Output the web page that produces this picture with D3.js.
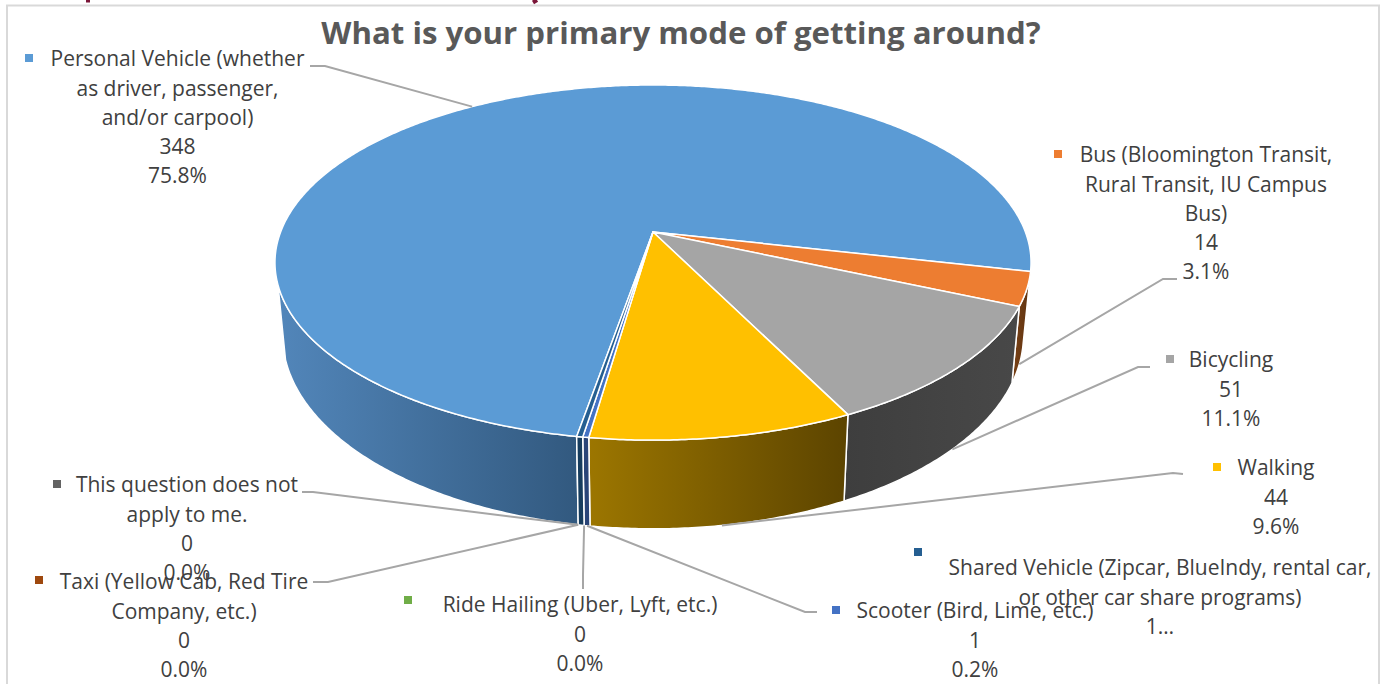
<!DOCTYPE html>
<html><head><meta charset="utf-8">
<style>html,body{margin:0;padding:0;background:#fff;overflow:hidden}svg{display:block}</style>
<script src="https://cdn.jsdelivr.net/npm/d3@7/dist/d3.min.js"></script>
</head><body>
<svg id="c" width="1386" height="684"></svg>
<script>
const categories=["Personal Vehicle","Bus","Bicycling","Walking","Scooter","Ride Hailing","Shared Vehicle","Taxi","This question does not apply to me."];
const counts=[348,14,51,44,1,0,1,0,0];
const topColors=["#5B9BD5","#ED7D31","#A5A5A5","#FFC000","#4472C4","#70AD47","#255E91","#9E480E","#636363"];
const wallLeft=["#5286BA","#7A4216","#3E3E3E","#9C7600","#2A4578","#43682B","#173D5E","#5E2B08","#3B3B3B"];
const wallRight=["#32597F","#5E3210","#484848","#5C4400","#2A4578","#43682B","#173D5E","#5E2B08","#3B3B3B"];
const labelLines=[
 ["Personal Vehicle (whether","as driver, passenger,","and/or carpool)","348","75.8%"],
 ["Bus (Bloomington Transit,","Rural Transit, IU Campus","Bus)","14","3.1%"],
 ["Bicycling","51","11.1%"],
 ["Walking","44","9.6%"],
 ["Scooter (Bird, Lime, etc.)","1","0.2%"],
 ["Ride Hailing (Uber, Lyft, etc.)","0","0.0%"],
 ["Shared Vehicle (Zipcar, BlueIndy, rental car,","or other car share programs)","1…"],
 ["Taxi (Yellow Cab, Red Tire","Company, etc.)","0","0.0%"],
 ["This question does not","apply to me.","0","0.0%"]
];
// label layout: text centre x, first-line y, marker position, leader elbow and stub end (null = no leader)
const labelX=[177.5,1206,1231,1276,975,580,1160,184,187];
const labelY=[59,155,360,468,611,605,568,582,485];
const markerX=[29,1058,1170,1217,836,408,918,39,57];
const markerY=[58,154,359,467,610,600,552,580,484];
const stubs=[[310,66,325,66],[1177,279,1163,279],[1150,367,1138,367],[1183,474,1173,473],[817,612,805,612],[583,589,583,575],null,[313,582,328,582],[302,492,313,492]];

const svg=d3.select("#c");
const toRad=Math.PI/180;
const startDeg=189.8;
const pie=d3.pie().value(d=>d).sort(null).startAngle(startDeg*toRad).endAngle((startDeg+360)*toRad);
const arcs=pie(counts);

// perspective projection of the pie's disc
const apex={x:653,y:232}, A=372.4, B=172.3, K=0.172;
function proj(a){const u=Math.sin(a),v=-Math.cos(a),d=1-K*v;return [A*u/d,B*v/d];}
const topRing=a=>{const p=proj(a);return [apex.x+p[0],apex.y+p[1]];};
const botRing=a=>{const p=proj(a);return [apex.x+0.98*p[0],302+1.09*p[1]];};
const line=d3.line();
const samples=(a0,a1)=>{const n=Math.max(2,Math.ceil(Math.abs(a1-a0)/(0.5*toRad)));return d3.range(n+1).map(i=>a0+(a1-a0)*i/n);};

// frame
svg.append("path").attr("d","M7 684V5.5H1379V684").attr("fill","none").attr("stroke","#d9d9d9").attr("stroke-width",2);

// slivers of the page heading cropped away above the chart
svg.append("g").attr("stroke","#7A1538").attr("stroke-width",4).attr("fill","none")
  .selectAll("path").data([[88,88],[533,537]]).join("path")
  .attr("d",d=>line([[d[1],0],[d[0],2.5]]));

const defs=svg.append("defs");
arcs.forEach((s,i)=>{
  const g=defs.append("linearGradient").attr("id","w"+i).attr("x1",0).attr("x2",1).attr("y1",0).attr("y2",0);
  g.append("stop").attr("offset",0).attr("stop-color",wallLeft[i]);
  g.append("stop").attr("offset",1).attr("stop-color",wallRight[i]);
});

// side walls: draw only the front-facing range
const loFront=95*toRad, hiFront=253*toRad;
function wall(s){
  let a0=s.startAngle,a1=s.endAngle;
  if(a0>=2*Math.PI){a0-=2*Math.PI;a1-=2*Math.PI;}
  a0=Math.max(a0,loFront);a1=Math.min(a1,hiFront);
  if(a1<=a0) return null;
  const t=samples(a0,a1);
  return line(t.map(topRing).concat(t.slice().reverse().map(botRing)))+"Z";
}
svg.append("g").selectAll("path").data(arcs.filter(s=>s.value>0)).join("path")
  .attr("d",wall).attr("fill",d=>`url(#w${d.index})`).attr("stroke","#fff").attr("stroke-width",1.5).attr("stroke-linejoin","round");

// top surface
svg.append("g").selectAll("path").data(arcs.filter(s=>s.value>0)).join("path")
  .attr("d",s=>line([[apex.x,apex.y]].concat(samples(s.startAngle,s.endAngle).map(topRing)))+"Z")
  .attr("fill",d=>topColors[d.index]).attr("stroke","#fff").attr("stroke-width",1.5).attr("stroke-linejoin","round");

// leaders
const mid=s=>(s.startAngle+s.endAngle)/2;
svg.append("g").selectAll("path").data(arcs.filter(s=>stubs[s.index])).join("path")
  .attr("d",s=>{
    const st=stubs[s.index];
    const end=s.index===0?topRing(mid(s)):botRing(mid(s));
    return line([[st[0],st[1]],[st[2],st[3]],end]);
  }).attr("fill","none").attr("stroke","#a6a6a6").attr("stroke-width",2);

// markers
svg.append("g").selectAll("rect").data(categories).join("rect")
  .attr("x",(d,i)=>markerX[i]-4).attr("y",(d,i)=>markerY[i]-4).attr("width",8).attr("height",8)
  .attr("fill",(d,i)=>topColors[i]);

// labels
const font="'Open Sans',sans-serif";
const lab=svg.append("g").attr("font-family",font).attr("font-size",21).attr("fill","#404040").attr("text-anchor","middle");
labelLines.forEach((ls,i)=>{
  ls.forEach((t,j)=>{
    lab.append("text").attr("x",labelX[i]).attr("y",labelY[i]+j*29.2).attr("dy","0.35em").text(t);
  });
});
svg.append("text").attr("x",681).attr("y",33).attr("dy","0.35em").attr("text-anchor","middle")
  .attr("font-family",font).attr("font-weight",700).attr("font-size",31.2).attr("fill","#595959")
  .text("What is your primary mode of getting around?");
</script>
</body></html>
